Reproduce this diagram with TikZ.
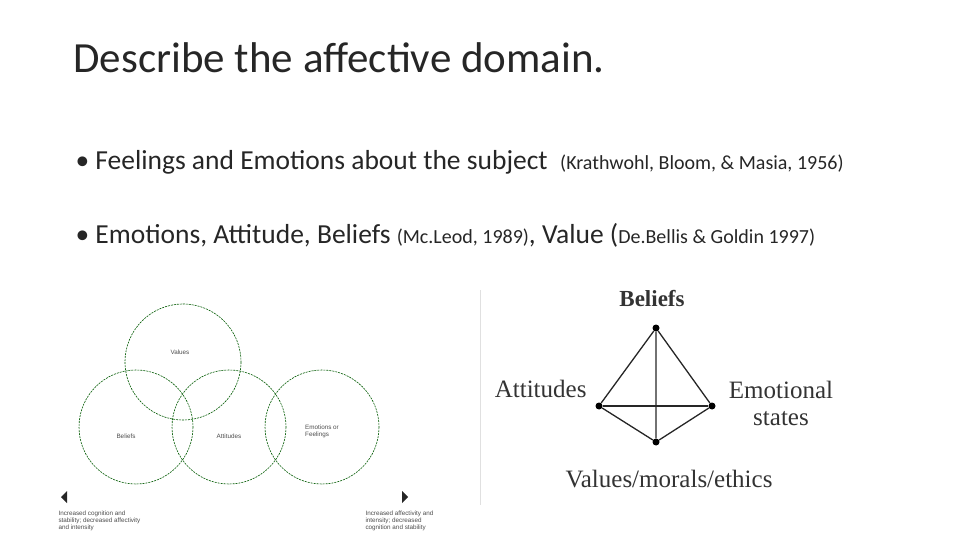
\documentclass[tikz,border=0pt]{standalone}
\usepackage{fontspec}
\setmainfont{Carlito}
\newfontfamily\serifB{Liberation Serif}
\newfontfamily\sansA{Liberation Sans}
\begin{document}
\begin{tikzpicture}[x=1pt,y=-1pt,
  circ/.style={draw=green!35!black,dashed,dash pattern=on 2pt off 1pt,line width=0.6pt},
  tiny/.style={font=\sansA\fontsize{6.3}{7}\selectfont,text=black!70,align=left},
  dot/.style={circle,fill=black,inner sep=0pt,minimum size=7pt},
  lab/.style={font=\serifB\fontsize{25}{27}\selectfont,text=black!80},
  edge/.style={line width=1.3pt,black!85}]
\useasboundingbox (0,0) rectangle (960,540);
\node[anchor=west,font=\fontsize{43}{46}\selectfont,text=black!85] (title) at (70,58) {Describe the affective domain.};
\node[anchor=west,font=\fontsize{27.5}{31}\selectfont,text=black!85] (b1) at (72,162) {• Feelings and Emotions about the subject \ {\fontsize{20}{22}\selectfont(Krathwohl, Bloom, \& Masia, 1956)}};
\node[anchor=west,font=\fontsize{27.5}{31}\selectfont,text=black!85] (b2) at (72,235) {• Emotions, Attitude, Beliefs {\fontsize{20}{22}\selectfont(Mc.Leod, 1989)}, Value ({\fontsize{20}{22}\selectfont De.Bellis \& Goldin 1997)}};
% circles
\draw[circ] (183,362) circle (58);
\draw[circ] (136,427) circle (57);
\draw[circ] (229,427) circle (57);
\draw[circ] (322,427) circle (57);
\node[tiny] (tv) at (180,352) {Values};
\node[tiny] (tb) at (126,436) {Beliefs};
\node[tiny] (ta) at (229,436) {Attitudes};
\node[tiny] (te) at (322,431) {Emotions or\\Feelings};
\fill[black!85] (61,497) -- (67,491) -- (67,503) -- cycle;
\fill[black!85] (408,497) -- (402,491) -- (402,503) -- cycle;
\node[tiny,anchor=north west] (tl) at (55,507) {Increased cognition and\\stability; decreased affectivity\\and intensity};
\node[tiny,anchor=north west] (tr) at (362,507) {Increased affectivity and\\intensity; decreased\\cognition and stability};
\draw[black!12] (480,290) -- (480,505);
% tetrahedron
\node[dot] (B) at (656,328) {};
\node[dot] (A) at (599,406) {};
\node[dot] (E) at (712,406) {};
\node[dot] (V) at (656,442) {};
\draw[edge] (B) -- (A) -- (V) -- (E) -- (B) -- (V);
\draw[edge] (A) -- (E);
\node[lab,font=\serifB\bfseries\fontsize{23}{25}\selectfont] (lb) at (652,299) {Beliefs};
\node[lab,anchor=east] (la) at (590,389) {Attitudes};
\node[lab,align=center] (le) at (781,403) {Emotional\\states};
\node[lab] (lv) at (669,479) {Values/morals/ethics};
\end{tikzpicture}
\end{document}
